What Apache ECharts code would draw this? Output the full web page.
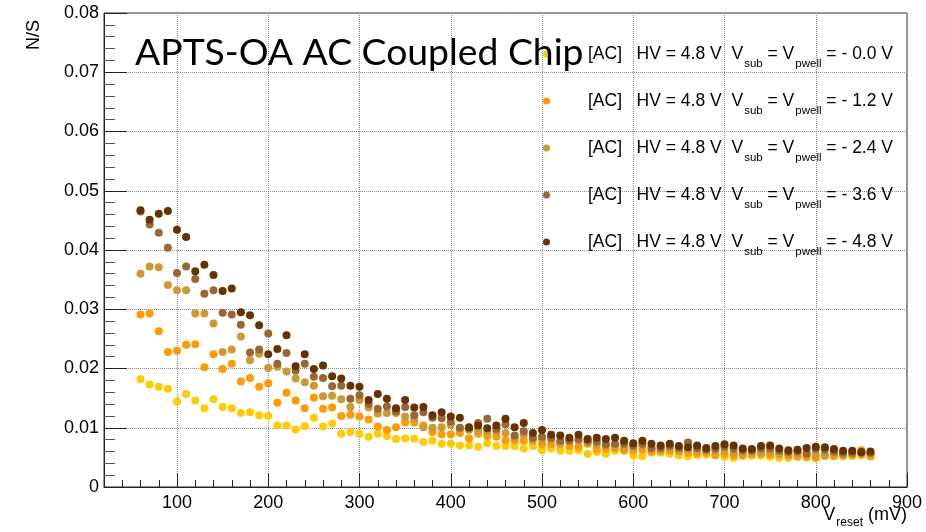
<!DOCTYPE html>
<html>
<head>
<meta charset="utf-8">
<script src="https://cdn.jsdelivr.net/npm/echarts@6/dist/echarts.min.js"></script>
<style>
  html, body { margin: 0; padding: 0; background: #ffffff; }
  #chart { width: 926px; height: 532px; }
</style>
</head>
<body>
<div id="chart"></div>
<script>
// Reset voltage scan points (mV)
const vReset = [60, 70, 80, 90, 100, 110, 120, 130, 140, 150, 160, 170, 180, 190, 200, 210, 220, 230, 240, 250,
  260, 270, 280, 290, 300, 310, 320, 330, 340, 350, 360, 370, 380, 390, 400, 410, 420, 430, 440, 450,
  460, 470, 480, 490, 500, 510, 520, 530, 540, 550, 560, 570, 580, 590, 600, 610, 620, 630, 640, 650,
  660, 670, 680, 690, 700, 710, 720, 730, 740, 750, 760, 770, 780, 790, 800, 810, 820, 830, 840, 850, 860];

// Noise-to-signal ratio, in units of 1e-3, one list per substrate / p-well bias
const nsVsub00 = [18.2, 17.3, 16.9, 16.6, 14.4, 15.7, 14.6, 13.3, 14.8, 13.5, 13.3, 12.5, 12.6, 12.1, 12.0, 10.4, 10.4, 9.7, 10.3, 11.7,
  10.2, 10.7, 9.0, 9.3, 9.0, 8.5, 9.0, 8.6, 8.1, 8.2, 8.2, 7.6, 7.8, 7.3, 7.3, 7.0, 7.0, 6.8, 7.4, 6.9,
  6.9, 6.9, 6.5, 6.9, 6.2, 6.5, 6.1, 6.1, 6.2, 5.6, 5.9, 5.6, 6.1, 6.1, 5.3, 5.2, 5.8, 5.8, 5.6, 5.3,
  5.2, 5.4, 5.5, 5.3, 5.1, 4.9, 5.3, 5.3, 5.3, 5.1, 4.9, 4.9, 5.2, 5.0, 5.2, 5.2, 5.3, 5.2, 5.2, 5.3, 5.2];
const nsVsub12 = [29.1, 29.3, 26.3, 22.8, 23.0, 24.0, 24.1, 20.2, 22.4, 19.9, 20.8, 17.8, 18.4, 16.9, 17.5, 14.2, 15.9, 14.6, 13.3, 15.1,
  13.2, 13.4, 12.0, 12.2, 11.9, 11.4, 10.2, 9.6, 10.1, 10.9, 10.9, 10.4, 9.3, 8.9, 8.9, 9.1, 8.2, 9.0, 8.6, 8.5,
  7.9, 7.9, 7.8, 7.8, 7.2, 7.2, 7.2, 6.9, 6.8, 7.3, 6.4, 6.4, 6.6, 6.2, 6.1, 6.3, 6.0, 6.1, 6.1, 6.0,
  5.8, 5.7, 5.8, 5.4, 5.6, 5.4, 5.3, 5.5, 5.6, 5.5, 5.4, 5.3, 5.1, 5.1, 4.9, 5.3, 5.2, 5.3, 5.4, 6.2, 5.2];
const nsVsub24 = [36.0, 37.2, 37.1, 34.1, 33.2, 33.2, 29.3, 29.3, 27.6, 22.8, 23.2, 25.4, 21.4, 22.5, 20.1, 20.3, 19.5, 18.3, 17.7, 17.1,
  15.3, 15.4, 14.8, 13.5, 14.7, 13.4, 12.4, 12.5, 12.5, 11.9, 11.5, 10.1, 10.0, 10.1, 10.5, 9.8, 9.6, 9.5, 9.3, 9.3,
  9.1, 8.3, 8.8, 8.0, 7.9, 8.0, 7.5, 7.6, 7.8, 7.5, 7.2, 7.0, 7.0, 6.7, 6.6, 6.9, 6.4, 6.3, 6.5, 6.2,
  6.3, 6.2, 6.1, 6.1, 6.1, 5.8, 5.8, 5.9, 5.9, 6.0, 5.7, 5.5, 5.6, 5.8, 5.5, 5.4, 5.8, 5.5, 5.6, 5.6, 5.6];
const nsVsub36 = [46.5, 44.3, 42.9, 40.4, 36.1, 37.2, 35.1, 32.6, 33.2, 29.4, 29.1, 27.4, 22.7, 23.2, 25.9, 20.8, 22.6, 19.6, 20.8, 18.6,
  18.4, 17.0, 17.1, 14.9, 15.5, 14.0, 13.2, 13.6, 12.8, 13.5, 12.1, 12.6, 11.7, 11.6, 11.0, 10.0, 9.9, 10.8, 11.5, 9.8,
  10.6, 8.7, 9.4, 8.3, 8.5, 8.3, 7.8, 7.9, 8.1, 7.8, 7.7, 7.2, 7.3, 7.3, 7.0, 7.3, 6.6, 6.6, 6.9, 6.6,
  7.5, 6.6, 6.3, 6.5, 6.8, 6.5, 6.2, 6.1, 6.5, 6.5, 6.1, 5.9, 6.0, 5.6, 6.4, 6.3, 6.0, 5.8, 5.8, 5.8, 5.8];
const nsVsub48 = [46.7, 45.1, 46.1, 46.6, 43.4, 42.2, 36.4, 37.5, 35.8, 33.1, 33.5, 29.5, 29.0, 27.3, 22.4, 23.3, 25.6, 20.4, 22.4, 19.9,
  20.5, 18.7, 18.3, 17.1, 16.9, 14.7, 15.7, 14.9, 13.3, 14.7, 13.4, 13.5, 12.1, 12.6, 11.9, 11.7, 10.1, 10.4, 9.9, 10.4,
  11.5, 10.1, 10.8, 9.1, 9.6, 8.8, 8.7, 8.3, 8.8, 8.1, 8.3, 8.1, 8.3, 7.8, 7.4, 7.8, 7.3, 7.0, 7.3, 6.9,
  6.7, 7.0, 6.6, 6.9, 7.2, 7.0, 6.5, 6.4, 6.9, 7.0, 6.5, 6.2, 6.3, 6.6, 6.8, 6.7, 6.4, 6.1, 6.1, 5.9, 6.0];

// Bias labels shown in the legend (Vsub = Vpwell)
const biasLabels = ['- 0.0 V', '- 1.2 V', '- 2.4 V', '- 3.6 V', '- 4.8 V'];
const seriesValues = [nsVsub00, nsVsub12, nsVsub24, nsVsub36, nsVsub48];
const seriesColors = ['#ffcc00', '#ff9a00', '#cc9933', '#9a6633', '#663300'];

// Axis tick labels
const xMajorTicks = [100, 200, 300, 400, 500, 600, 700, 800, 900];

const FONT = 'Liberation Sans';
const NS_UNIT = 1e-3;

const chart = echarts.init(document.getElementById('chart'), null, { renderer: 'canvas' });

const seriesNames = biasLabels.map(b => '[AC] HV = 4.8 V Vsub = Vpwell = ' + b);

const series = seriesValues.map((vals, k) => ({
  name: seriesNames[k],
  type: 'scatter',
  xAxisIndex: 0,
  yAxisIndex: 0,
  symbol: 'circle',
  symbolSize: 8,
  itemStyle: { color: seriesColors[k], opacity: 1 },
  emphasis: { disabled: true },
  data: vReset.map((x, i) => [x, vals[i] * NS_UNIT])
}));

const option = {
  animation: false,
  backgroundColor: '#ffffff',
  title: {
    text: 'APTS-OA AC Coupled Chip',
    left: 135,
    top: 34,
    padding: 0,
    z: 10,
    textStyle: { fontFamily: 'Lato', fontSize: 37.3, fontWeight: 'normal', color: '#000000' }
  },
  legend: {
    orient: 'vertical',
    left: 543,
    top: 45,
    padding: 0,
    itemGap: 22,
    itemWidth: 7,
    itemHeight: 7,
    icon: 'circle',
    selectedMode: false,
    z: 2,
    data: seriesNames,
    formatter: function (name) {
      const b = biasLabels[seriesNames.indexOf(name)];
      return '{g| }{t|[AC]   HV = 4.8 V  V}{s|sub}{t| = V}{s|pwell}{t| = ' + b + '}';
    },
    textStyle: {
      rich: {
        g: { width: 33, fontSize: 17.5, lineHeight: 18, verticalAlign: 'top' },
        t: { fontFamily: FONT, fontSize: 17.5, lineHeight: 18, color: '#000000', verticalAlign: 'top' },
        s: { fontFamily: FONT, fontSize: 11.5, lineHeight: 11, color: '#000000', verticalAlign: 'top', padding: [13, 0, 0, 1] }
      }
    }
  },
  grid: {
    left: 104, right: 19, top: 13, bottom: 45,
    show: true,
    borderColor: '#333333',
    borderWidth: 1,
    backgroundColor: 'transparent'
  },
  xAxis: [{
    type: 'value',
    min: 20,
    max: 900,
    position: 'bottom',
    axisLine: { show: true, onZero: false, lineStyle: { color: '#222222', width: 1 } },
    axisTick: { show: true, inside: true, length: 14, customValues: xMajorTicks, lineStyle: { color: '#222222' } },
    minorTick: { show: false },
    axisLabel: { customValues: xMajorTicks, fontFamily: FONT, fontSize: 18, color: '#000000', margin: 7 },
    splitLine: { show: true, lineStyle: { type: 'dotted', color: '#8c8c8c', width: 1 } }
  }, {
    // fine 20 mV tick marks along the bottom edge
    type: 'value',
    min: 20,
    max: 900,
    interval: 20,
    position: 'bottom',
    axisLine: { show: false },
    axisTick: { show: true, inside: true, length: 7, lineStyle: { color: '#222222' } },
    axisLabel: { show: false },
    splitLine: { show: false }
  }],
  yAxis: {
    type: 'value',
    min: 0,
    max: 0.08,
    interval: 0.01,
    axisLine: { show: true, onZero: false, lineStyle: { color: '#222222', width: 1 } },
    axisTick: { show: true, inside: true, length: 23, lineStyle: { color: '#222222' } },
    minorTick: { show: true, splitNumber: 5, length: 11, lineStyle: { color: '#555555' } },
    axisLabel: { fontFamily: FONT, fontSize: 18, color: '#000000', margin: 5 },
    splitLine: { show: true, lineStyle: { type: 'dotted', color: '#8c8c8c', width: 1 } }
  },
  graphic: [{
    type: 'text',
    x: 34,
    y: 20,
    rotation: Math.PI / 2,
    style: {
      text: 'N/S',
      font: '18px "Liberation Sans"',
      fill: '#000000',
      align: 'right',
      verticalAlign: 'middle'
    }
  }, {
    type: 'text',
    x: 907,
    y: 506,
    style: {
      text: '{t|V}{s|reset}{t| (mV)}',
      fill: '#000000',
      align: 'right',
      verticalAlign: 'top',
      rich: {
        t: { fontFamily: FONT, fontSize: 18, lineHeight: 18, verticalAlign: 'top', fill: '#000000' },
        s: { fontFamily: FONT, fontSize: 12, lineHeight: 12, verticalAlign: 'top', padding: [11, 0, 0, 1], fill: '#000000' }
      }
    }
  }],
  series: series
};

chart.setOption(option);
</script>
</body>
</html>
